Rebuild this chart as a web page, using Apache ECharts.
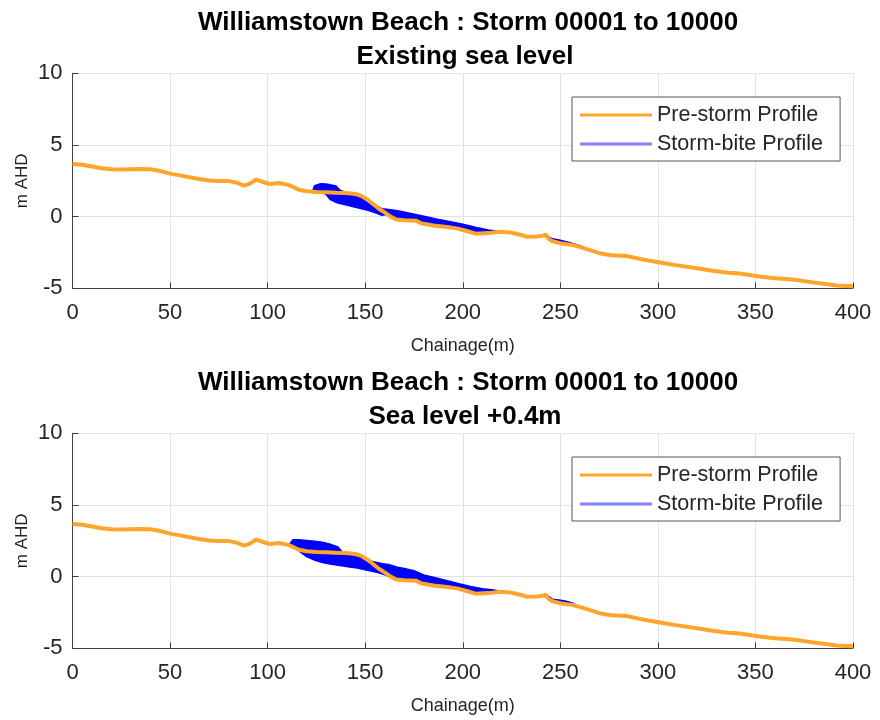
<!DOCTYPE html>
<html><head><meta charset="utf-8">
<script src="https://cdn.jsdelivr.net/npm/echarts@6/dist/echarts.min.js"></script>
<style>html,body{margin:0;padding:0;background:#fff}#c{width:880px;height:720px}</style>
</head><body><div id="c"></div>
<script>
// ---- data ----
const titleLine1 = 'Williamstown Beach : Storm 00001 to 10000';
const subTitles = ['Existing sea level', 'Sea level +0.4m'];
const xTicks = [0, 50, 100, 150, 200, 250, 300, 350, 400];
const yTicks = [-5, 0, 5, 10];

// pre-storm profile (chainage m, elevation m AHD)
const chainage = [0,5,10,15,20,25,30,35,40,45,50,55,60,65,70,75,80,84,88,91,94,97,101,106,111,116,120,125,130,135,140,145,148,151,154,157,160,163,166,170,176,179,185,192,197,202,207,213,219,224,229,233,238,241,242.5,244,246,250,256,262,270,276,284,292,301,310,320,328,336,342,352,360,369,375,380,387,393,400];
const preStorm = [3.68,3.62,3.5,3.38,3.3,3.28,3.3,3.32,3.3,3.18,3.0,2.88,2.75,2.62,2.52,2.49,2.48,2.37,2.16,2.3,2.58,2.45,2.27,2.35,2.2,1.88,1.77,1.72,1.7,1.67,1.65,1.58,1.45,1.2,0.88,0.55,0.3,0.0,-0.2,-0.25,-0.28,-0.48,-0.62,-0.72,-0.82,-1.0,-1.2,-1.15,-1.05,-1.1,-1.25,-1.4,-1.38,-1.33,-1.25,-1.55,-1.72,-1.85,-1.97,-2.2,-2.55,-2.7,-2.75,-2.98,-3.2,-3.4,-3.6,-3.77,-3.92,-3.97,-4.18,-4.3,-4.38,-4.5,-4.6,-4.72,-4.83,-4.85];

// storm-bite envelope, existing sea level
const biteA1X = [123,124,127,130,132,135,137,140,145,150,153,156,158.5,161,164,168,174,180,187,193,200,207,213,218,222];
const biteA1Up = [1.75,2.15,2.3,2.28,2.22,2.14,1.85,1.68,1.62,1.35,1.05,0.75,0.55,0.52,0.46,0.38,0.2,0.02,-0.18,-0.33,-0.53,-0.76,-0.93,-1.02,-1.08];
const biteA1Lo = [1.75,1.78,1.72,1.55,1.2,1.0,0.92,0.82,0.66,0.5,0.38,0.24,0.1,0.15,-0.05,-0.22,-0.27,-0.45,-0.62,-0.72,-0.9,-1.15,-1.13,-1.05,-1.08];
const biteA2X = [238,242,246,250,255,260,264,267];
const biteA2Up = [-1.34,-1.28,-1.55,-1.65,-1.82,-2.02,-2.27,-2.46];
const biteA2Lo = [-1.38,-1.27,-1.72,-1.85,-1.95,-2.15,-2.35,-2.45];

// storm-bite envelope, sea level +0.4m
const biteB1X = [111,113,116,120,124,128,132,136,138,142,146,150,153,156,159,162,166,170,175,180,186,192,198,204,210,215,219,222];
const biteB1Up = [2.25,2.58,2.58,2.52,2.47,2.4,2.27,2.07,1.75,1.67,1.62,1.32,1.08,0.98,0.9,0.85,0.68,0.57,0.42,0.12,-0.08,-0.28,-0.5,-0.68,-0.84,-0.92,-1.0,-1.05];
const biteB1Lo = [2.22,2.12,1.8,1.4,1.15,0.98,0.88,0.8,0.76,0.67,0.6,0.48,0.4,0.3,0.18,0.03,-0.15,-0.22,-0.27,-0.45,-0.62,-0.72,-0.85,-1.05,-1.15,-1.12,-1.05,-1.08];
const biteB2X = [240,243,246,250,253,257];
const biteB2Up = [-1.31,-1.28,-1.57,-1.65,-1.72,-1.88];
const biteB2Lo = [-1.35,-1.4,-1.72,-1.85,-1.9,-1.98];

// ---- chart ----
const FONT = '"Liberation Sans", Arial, sans-serif';
const TXT = '#262626';
const ORANGE = '#FFA52C';
const BLUE = '#0000FF';
const panels = [
  {top: 73.3, bites: [[biteA1X, biteA1Up, biteA1Lo], [biteA2X, biteA2Up, biteA2Lo]]},
  {top: 433.3, bites: [[biteB1X, biteB1Up, biteB1Lo], [biteB2X, biteB2Up, biteB2Lo]]}
];
const PH = 215;

function polyRender(xs, up, lo) {
  return function (params, api) {
    if (params.dataIndex !== 0) return null;
    const pts = [];
    for (let i = 0; i < xs.length; i++) pts.push(api.coord([xs[i], up[i]]));
    for (let i = xs.length - 1; i >= 0; i--) pts.push(api.coord([xs[i], lo[i]]));
    return {type: 'polygon', shape: {points: pts}, style: {fill: BLUE, stroke: BLUE, lineWidth: 1.5}};
  };
}

const grid = [], xAxis = [], yAxis = [], series = [], legend = [], graphic = [];
panels.forEach((p, k) => {
  grid.push({left: 72.5, right: 27, top: p.top, height: PH, containLabel: false});
  xAxis.push({
    type: 'value', gridIndex: k, min: xTicks[0], max: xTicks[xTicks.length - 1], interval: 50,
    name: 'Chainage(m)', nameLocation: 'middle', nameGap: 49, nameMoveOverlap: false,
    nameTextStyle: {color: TXT, fontSize: 18, fontFamily: FONT},
    axisLine: {show: true, onZero: false, lineStyle: {color: '#404040', width: 1}},
    axisTick: {show: true, inside: true, length: 6, lineStyle: {color: '#404040'}},
    axisLabel: {color: TXT, fontSize: 22, fontFamily: FONT, margin: 14},
    splitLine: {show: true, lineStyle: {color: '#e2e2e2', width: 1}}
  });
  yAxis.push({
    type: 'value', gridIndex: k, min: yTicks[0], max: yTicks[yTicks.length - 1], interval: 5,
    name: 'm AHD', nameLocation: 'middle', nameGap: 42, nameRotate: 90, nameMoveOverlap: false,
    nameTextStyle: {color: TXT, fontSize: 17, fontFamily: FONT},
    axisLine: {show: true, onZero: false, lineStyle: {color: '#404040', width: 1}},
    axisTick: {show: true, inside: true, length: 6, lineStyle: {color: '#404040'}},
    axisLabel: {color: TXT, fontSize: 22, fontFamily: FONT, margin: 10},
    splitLine: {show: true, lineStyle: {color: '#e2e2e2', width: 1}}
  });
  p.bites.forEach(b => {
    series.push({
      type: 'custom', name: 'Storm-bite Profile', xAxisIndex: k, yAxisIndex: k, z: 2, clip: true,
      itemStyle: {color: BLUE},
      data: b[0].map((x, i) => [x, b[1][i], b[2][i]]),
      encode: {x: 0, y: [1, 2]},
      renderItem: polyRender(b[0], b[1], b[2])
    });
  });
  series.push({
    type: 'line', name: 'Pre-storm Profile', xAxisIndex: k, yAxisIndex: k, z: 3,
    showSymbol: false, symbol: 'none', smooth: false, clip: true,
    lineStyle: {color: ORANGE, width: 4},
    itemStyle: {color: ORANGE},
    data: chainage.map((x, i) => [x, preStorm[i]])
  });
  legend.push({
    left: 572, top: p.top + 23.7, orient: 'vertical',
    backgroundColor: '#fff', borderColor: '#555', borderWidth: 1,
    padding: [7, 17, 6, 8], itemGap: 7, itemWidth: 72, itemHeight: 3, icon: 'rect',
    textStyle: {color: TXT, fontSize: 21.5, fontFamily: FONT, lineHeight: 22},
    selectedMode: false,
    data: [
      {name: 'Pre-storm Profile', itemStyle: {color: ORANGE}},
      {name: 'Storm-bite Profile', itemStyle: {color: '#8282FF'}}
    ]
  });
  graphic.push({type: 'text', x: 468, y: p.top - 50, style: {text: titleLine1, textAlign: 'center', textVerticalAlign: 'middle', fill: '#000', font: 'bold 26px ' + FONT}});
  graphic.push({type: 'text', x: 465, y: p.top - 16, style: {text: subTitles[k], textAlign: 'center', textVerticalAlign: 'middle', fill: '#000', font: 'bold 26px ' + FONT}});
});

const chart = echarts.init(document.getElementById('c'), null, {renderer: 'canvas'});
chart.setOption({animation: false, backgroundColor: '#fff', grid, xAxis, yAxis, series, legend, graphic});
</script>
</body></html>
